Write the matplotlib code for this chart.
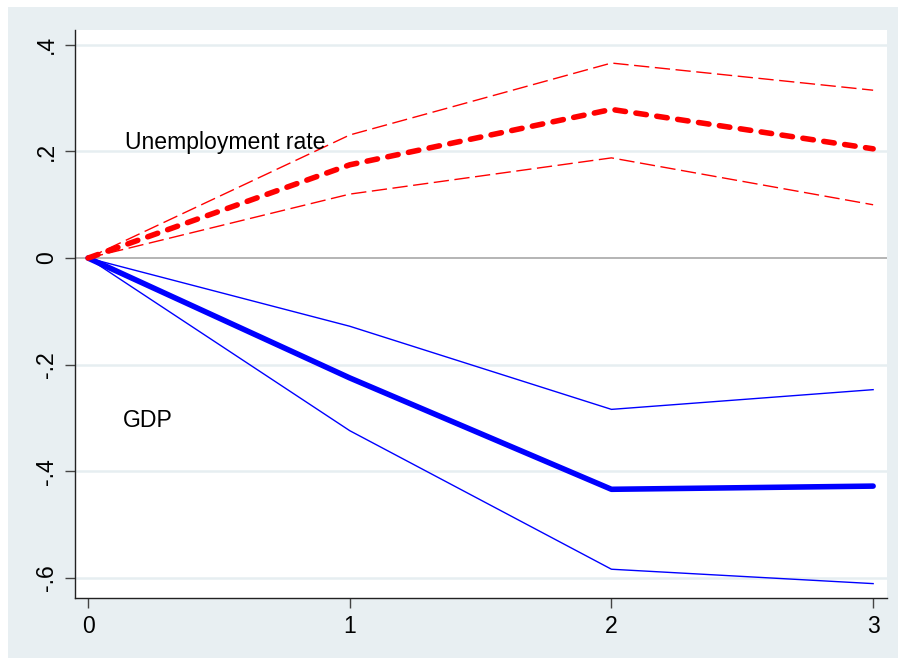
import matplotlib
matplotlib.use("Agg")
import matplotlib.pyplot as plt
from matplotlib.patches import Rectangle

plt.rcParams["font.family"] = ["Liberation Sans", "DejaVu Sans"]

# impulse responses
steps = [0, 1, 2, 3]
unemp = [0.0, 0.175, 0.279, 0.205]
unemp_hi = [0.0, 0.231, 0.366, 0.315]
unemp_lo = [0.0, 0.120, 0.188, 0.100]
gdp = [0.0, -0.225, -0.434, -0.428]
gdp_hi = [0.0, -0.128, -0.284, -0.247]
gdp_lo = [0.0, -0.324, -0.584, -0.611]

yticks = [-0.6, -0.4, -0.2, 0, 0.2, 0.4]
ytick_labels = ["-.6", "-.4", "-.2", "0", ".2", ".4"]

BG = "#E8EFF2"
GRID = "#E6EEF1"

fig = plt.figure(figsize=(8.98, 6.60), dpi=100, facecolor="white")
bg = Rectangle((8 / 898, 2 / 660), 1.0, 651 / 660, transform=fig.transFigure,
               facecolor=BG, edgecolor="none", zorder=-10)
fig.add_artist(bg)
ax = fig.add_axes([75 / 898, 1 - 598 / 660, 812 / 898, 568 / 660])
ax.set_zorder(5)
ax.set_facecolor("white")

for y in yticks:
    if y != 0:
        ax.axhline(y, color=GRID, lw=1.8, zorder=1)
ax.axhline(0, color="#A8A8A8", lw=1.2, zorder=1)

# GDP (blue, solid)
ax.plot(steps, gdp_hi, color="#0000FF", lw=1.0, zorder=3)
ax.plot(steps, gdp_lo, color="#0000FF", lw=1.0, zorder=3)
ax.plot(steps, gdp, color="#0000FF", lw=4.0, solid_capstyle="round",
        solid_joinstyle="round", zorder=4)

# Unemployment (red, dashed)
ax.plot(steps, unemp_hi, color="#FF0000", lw=1.0, dashes=(11, 4), zorder=3)
ax.plot(steps, unemp_lo, color="#FF0000", lw=1.0, dashes=(11, 4), zorder=3)
ax.plot(steps, unemp, color="#FF0000", lw=4.0, dashes=(1.9, 1.9),
        dash_capstyle="round", zorder=4)

ax.text(0.141, 0.2056, "Unemployment rate", fontsize=16.6, va="baseline", ha="left")
ax.text(0.134, -0.3164, "GDP", fontsize=16.6, va="baseline", ha="left")

ax.set_xlim(-0.05, 3.053)
ax.set_ylim(-0.638, 0.428)
ax.set_xticks(steps)
ax.set_xticklabels([str(s) for s in steps])
ax.set_yticks(yticks)
ax.set_yticklabels(ytick_labels, rotation=90, va="center")

for side in ["top", "right"]:
    ax.spines[side].set_visible(False)
for side in ["left", "bottom"]:
    ax.spines[side].set_color("#222222")
    ax.spines[side].set_linewidth(1.0)
ax.tick_params(axis="both", length=7, width=1.0, color="#444444",
               labelsize=16.6, pad=5)

fig.savefig("out.png", dpi=100, facecolor=fig.get_facecolor())
